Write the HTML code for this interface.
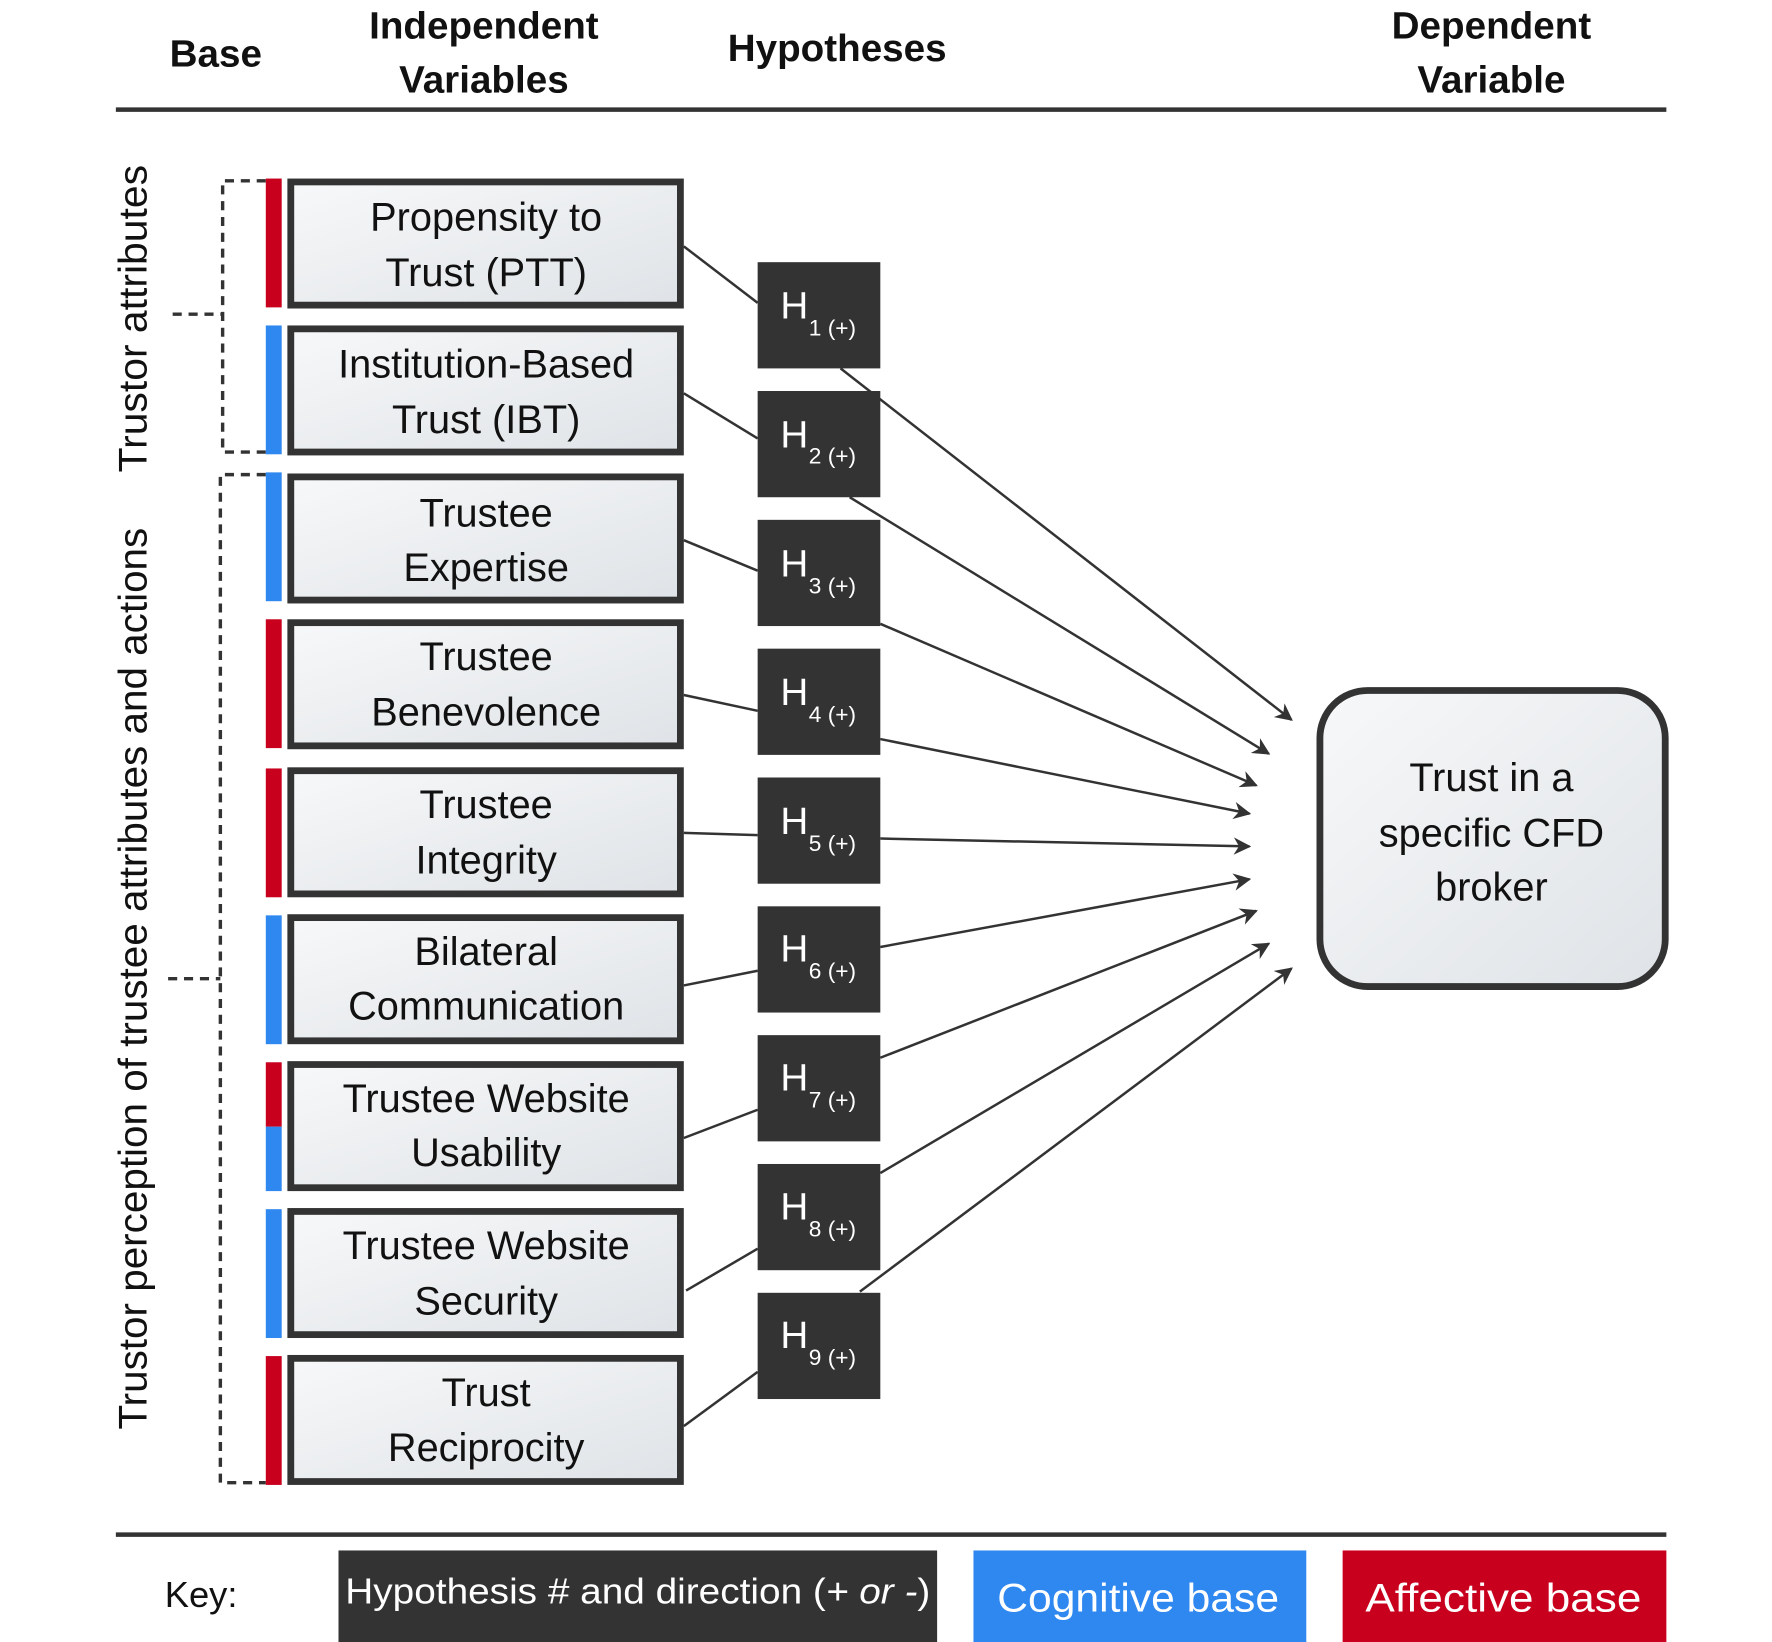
<!DOCTYPE html>
<html><head><meta charset="utf-8"><style>
html,body{margin:0;padding:0;background:#fff}
svg{display:block}
text{font-family:"Liberation Sans",sans-serif}
</style></head><body>
<svg width="1772" height="1642" viewBox="0 0 1560 1453" preserveAspectRatio="none" xmlns="http://www.w3.org/2000/svg">
<defs>
<linearGradient id="g" x1="0" y1="0" x2="1" y2="1"><stop offset="0" stop-color="#f7f8f9"/><stop offset="1" stop-color="#dfe3e7"/></linearGradient>
<marker id="a" viewBox="0 0 10 10" refX="9" refY="5" markerWidth="7" markerHeight="7" orient="auto"><path d="M0,0 L10,5 L0,10 L3,5 z" fill="#333"/></marker>
</defs>
<g font-weight="bold" font-size="34" fill="#111" text-anchor="middle">
<text x="190" y="59">Base</text>
<text x="426" y="34">Independent</text><text x="426" y="82">Variables</text>
<text x="737" y="54">Hypotheses</text>
<text x="1313" y="34">Dependent</text><text x="1313" y="82">Variable</text>
</g>
<line x1="102" y1="97" x2="1467" y2="97" stroke="#333" stroke-width="4"/>
<line x1="102" y1="1358" x2="1467" y2="1358" stroke="#333" stroke-width="4"/>
<g fill="none" stroke="#333" stroke-width="3" stroke-dasharray="8,6">
<polyline points="234,160 196,160 196,400 234,400"/>
<line x1="152" y1="278" x2="196" y2="278"/>
<polyline points="234,420 194,420 194,1312 234,1312"/>
<line x1="148" y1="866" x2="194" y2="866"/>
</g>
<g font-size="35" fill="#111" text-anchor="middle">
<text transform="translate(129,282) rotate(-90)" textLength="272" lengthAdjust="spacingAndGlyphs">Trustor attributes</text>
<text transform="translate(129,866) rotate(-90)" textLength="798" lengthAdjust="spacingAndGlyphs">Trustor perception of trustee attributes and actions</text>
</g>
<g>
<rect x="234" y="158" width="14" height="114" fill="#c8001e"/>
<rect x="234" y="288" width="14" height="114" fill="#2f87f0"/>
<rect x="234" y="418" width="14" height="114" fill="#2f87f0"/>
<rect x="234" y="548" width="14" height="114" fill="#c8001e"/>
<rect x="234" y="680" width="14" height="114" fill="#c8001e"/>
<rect x="234" y="810" width="14" height="114" fill="#2f87f0"/>
<rect x="234" y="940" width="14" height="57" fill="#c8001e"/>
<rect x="234" y="997" width="14" height="57" fill="#2f87f0"/>
<rect x="234" y="1070" width="14" height="114" fill="#2f87f0"/>
<rect x="234" y="1200" width="14" height="114" fill="#c8001e"/>
</g>
<g fill="url(#g)" stroke="#333" stroke-width="6">
<rect x="256" y="161" width="343" height="109"/>
<rect x="256" y="291" width="343" height="109"/>
<rect x="256" y="422" width="343" height="109"/>
<rect x="256" y="551" width="343" height="109"/>
<rect x="256" y="682" width="343" height="109"/>
<rect x="256" y="812" width="343" height="109"/>
<rect x="256" y="942" width="343" height="109"/>
<rect x="256" y="1072" width="343" height="109"/>
<rect x="256" y="1202" width="343" height="109"/>
</g>
<g font-size="35" fill="#111" text-anchor="middle">
<text x="428" y="204">Propensity to</text><text x="428" y="253">Trust (PTT)</text>
<text x="428" y="334">Institution-Based</text><text x="428" y="383">Trust (IBT)</text>
<text x="428" y="466">Trustee</text><text x="428" y="514">Expertise</text>
<text x="428" y="593">Trustee</text><text x="428" y="642">Benevolence</text>
<text x="428" y="724">Trustee</text><text x="428" y="773">Integrity</text>
<text x="428" y="854">Bilateral</text><text x="428" y="902">Communication</text>
<text x="428" y="984">Trustee Website</text><text x="428" y="1032">Usability</text>
<text x="428" y="1114">Trustee Website</text><text x="428" y="1163">Security</text>
<text x="428" y="1244">Trust</text><text x="428" y="1293">Reciprocity</text>
</g>
<g stroke="#333" stroke-width="2.2">
<line x1="602" y1="218" x2="667" y2="268"/>
<line x1="602" y1="348" x2="667" y2="388"/>
<line x1="602" y1="478" x2="667" y2="505"/>
<line x1="602" y1="615" x2="667" y2="629"/>
<line x1="602" y1="737" x2="667" y2="739"/>
<line x1="602" y1="872" x2="667" y2="859"/>
<line x1="602" y1="1007" x2="667" y2="982"/>
<line x1="604" y1="1142" x2="667" y2="1105"/>
<line x1="602" y1="1262" x2="667" y2="1214"/>
</g>
<g stroke="#333" stroke-width="2.2" marker-end="url(#a)">
<line x1="740" y1="326" x2="1137" y2="637"/>
<line x1="748" y1="440" x2="1117" y2="667"/>
<line x1="775" y1="552" x2="1106" y2="695"/>
<line x1="775" y1="654" x2="1100" y2="720"/>
<line x1="775" y1="742" x2="1100" y2="749"/>
<line x1="775" y1="838" x2="1100" y2="778"/>
<line x1="775" y1="936" x2="1106" y2="806"/>
<line x1="775" y1="1038" x2="1117" y2="835"/>
<line x1="757" y1="1143" x2="1137" y2="857"/>
</g>
<g fill="#333">
<rect x="667" y="232" width="108" height="94"/>
<rect x="667" y="346" width="108" height="94"/>
<rect x="667" y="460" width="108" height="94"/>
<rect x="667" y="574" width="108" height="94"/>
<rect x="667" y="688" width="108" height="94"/>
<rect x="667" y="802" width="108" height="94"/>
<rect x="667" y="916" width="108" height="94"/>
<rect x="667" y="1030" width="108" height="94"/>
<rect x="667" y="1144" width="108" height="94"/>
</g>
<g fill="#fff">
<text x="687" y="282" font-size="34">H</text><text x="712" y="297" font-size="20">1 (+)</text>
<text x="687" y="396" font-size="34">H</text><text x="712" y="410" font-size="20">2 (+)</text>
<text x="687" y="510" font-size="34">H</text><text x="712" y="525" font-size="20">3 (+)</text>
<text x="687" y="624" font-size="34">H</text><text x="712" y="639" font-size="20">4 (+)</text>
<text x="687" y="738" font-size="34">H</text><text x="712" y="753" font-size="20">5 (+)</text>
<text x="687" y="851" font-size="34">H</text><text x="712" y="866" font-size="20">6 (+)</text>
<text x="687" y="965" font-size="34">H</text><text x="712" y="980" font-size="20">7 (+)</text>
<text x="687" y="1079" font-size="34">H</text><text x="712" y="1094" font-size="20">8 (+)</text>
<text x="687" y="1193" font-size="34">H</text><text x="712" y="1208" font-size="20">9 (+)</text>
</g>
<rect x="1162" y="611" width="304" height="262" rx="42" fill="url(#g)" stroke="#333" stroke-width="6"/>
<g font-size="35" fill="#111" text-anchor="middle">
<text x="1313" y="700">Trust in a</text><text x="1313" y="749">specific CFD</text><text x="1313" y="797">broker</text>
</g>
<text x="145" y="1422" font-size="32" fill="#111">Key:</text>
<rect x="298" y="1372" width="527" height="81" fill="#333"/>
<text x="304" y="1419" font-size="32" fill="#fff" textLength="515" lengthAdjust="spacingAndGlyphs">Hypothesis # and direction (<tspan font-style="italic">+ or -</tspan>)</text>
<rect x="857" y="1372" width="293" height="81" fill="#2f87f0"/>
<text x="878" y="1426" font-size="35" fill="#fff" textLength="248" lengthAdjust="spacingAndGlyphs">Cognitive base</text>
<rect x="1182" y="1372" width="285" height="81" fill="#c8001e"/>
<text x="1202" y="1426" font-size="35" fill="#fff" textLength="243" lengthAdjust="spacingAndGlyphs">Affective base</text>
</svg>
</body></html>
